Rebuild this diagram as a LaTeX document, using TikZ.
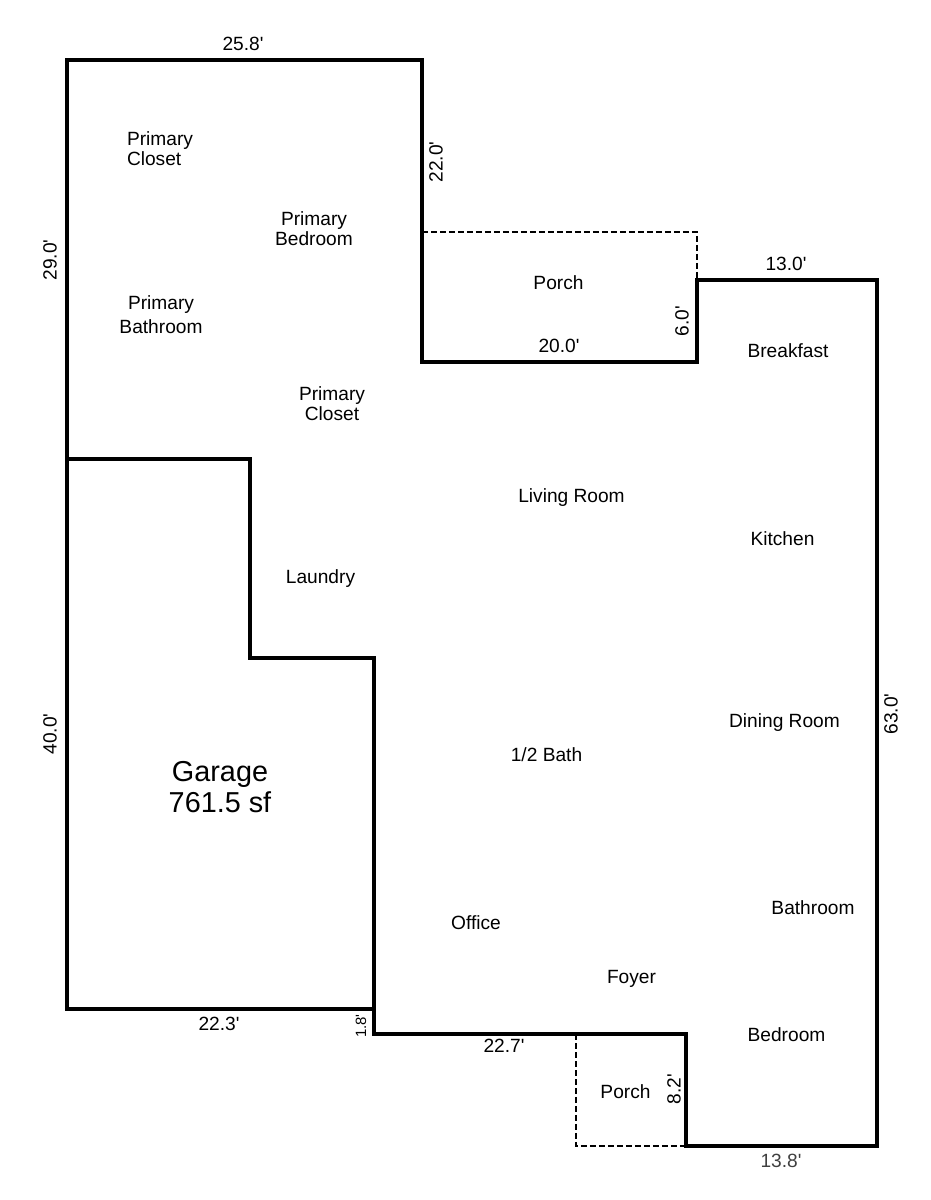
\documentclass[tikz,border=0pt]{standalone}
\usepackage{fontspec}
\setmainfont{Liberation Sans}
\usepackage{xcolor}

\newcommand{\ft}{\textquotesingle}

\tikzset{
wall/.style={line width=.09cm,line cap=rect,line join=miter},
open/.style={line width=.04cm,dash pattern=on .12cm off .06cm},
room/.style={font=\fontsize{10.9}{11.3}\selectfont,align=center,inner sep=0pt},
dim/.style={font=\fontsize{10.9}{12}\selectfont,inner sep=0pt},
}

\begin{document}
\begin{tikzpicture}[x=.02cm,y=-.02cm]
\useasboundingbox (0,0) rectangle (930,1200);

%outer walls
\draw [wall] (67,60)--(422,60)--(422,362)--(697,362)--(697,280)--(877,280)--(877,1146)--(686,1146)--(686,1034)--(374,1034)--(374,1009)--(67,1009)--cycle;

%garage
\draw [wall] (67,459)--(250,459)--(250,658)--(374,658)--(374,1009);

%porches
\draw [open] (422,232)--(697,232)--(697,280);
\draw [open] (576,1034)--(576,1146)--(686,1146);

%rooms
\node [room,align=left] (closetA) at (160,149) {Primary\\Closet};
\node [room] (bedroomA) at (314,229) {Primary\\Bedroom};
\node [room,font=\fontsize{10.9}{13.6}\selectfont] (bathroomA) at (161,315) {Primary\\Bathroom};
\node [room] (closetB) at (332,403.5) {Primary\\Closet};
\node [room] (porchA) at (558.5,283) {Porch};
\node [room] (breakfast) at (788,351) {Breakfast};
\node [room] (living) at (571.5,498) {Living Room};
\node [room] (kitchen) at (782.5,539) {Kitchen};
\node [room] (laundry) at (320.5,579) {Laundry};
\node [room] (dining) at (784.5,723) {Dining Room};
\node [room] (halfbath) at (546.5,755) {1/2 Bath};
\node [room] (bathroomB) at (813,908) {Bathroom};
\node [room] (office) at (476,923) {Office};
\node [room] (foyer) at (631.5,979) {Foyer};
\node [room] (bedroomB) at (786.5,1035) {Bedroom};
\node [room] (porchB) at (625.5,1092) {Porch};
\node [room,font=\fontsize{16.4}{17.6}\selectfont] (garage) at (220,787) {Garage\\761.5 sf};

%dimensions
\node [dim] (dimA) at (243,43.5) {25.8\ft};
\node [dim,rotate=90] (dimB) at (436,162) {22.0\ft};
\node [dim,rotate=90] (dimC) at (50,260) {29.0\ft};
\node [dim] (dimD) at (786,263.5) {13.0\ft};
\node [dim,rotate=90] (dimE) at (682,321) {6.0\ft};
\node [dim] (dimF) at (559,345.5) {20.0\ft};
\node [dim,rotate=90] (dimG) at (50,734) {40.0\ft};
\node [dim,rotate=90] (dimH) at (891,714) {63.0\ft};
\node [dim] (dimI) at (219,1024) {22.3\ft};
\node [dim,rotate=90,font=\fontsize{8.5}{10}\selectfont] (dimJ) at (361,1026) {1.8\ft};
\node [dim] (dimK) at (504,1046) {22.7\ft};
\node [dim,rotate=90] (dimL) at (674,1089) {8.2\ft};
\node [dim,text=black!75] (dimM) at (781,1161) {13.8\ft};

\end{tikzpicture}
\end{document}
